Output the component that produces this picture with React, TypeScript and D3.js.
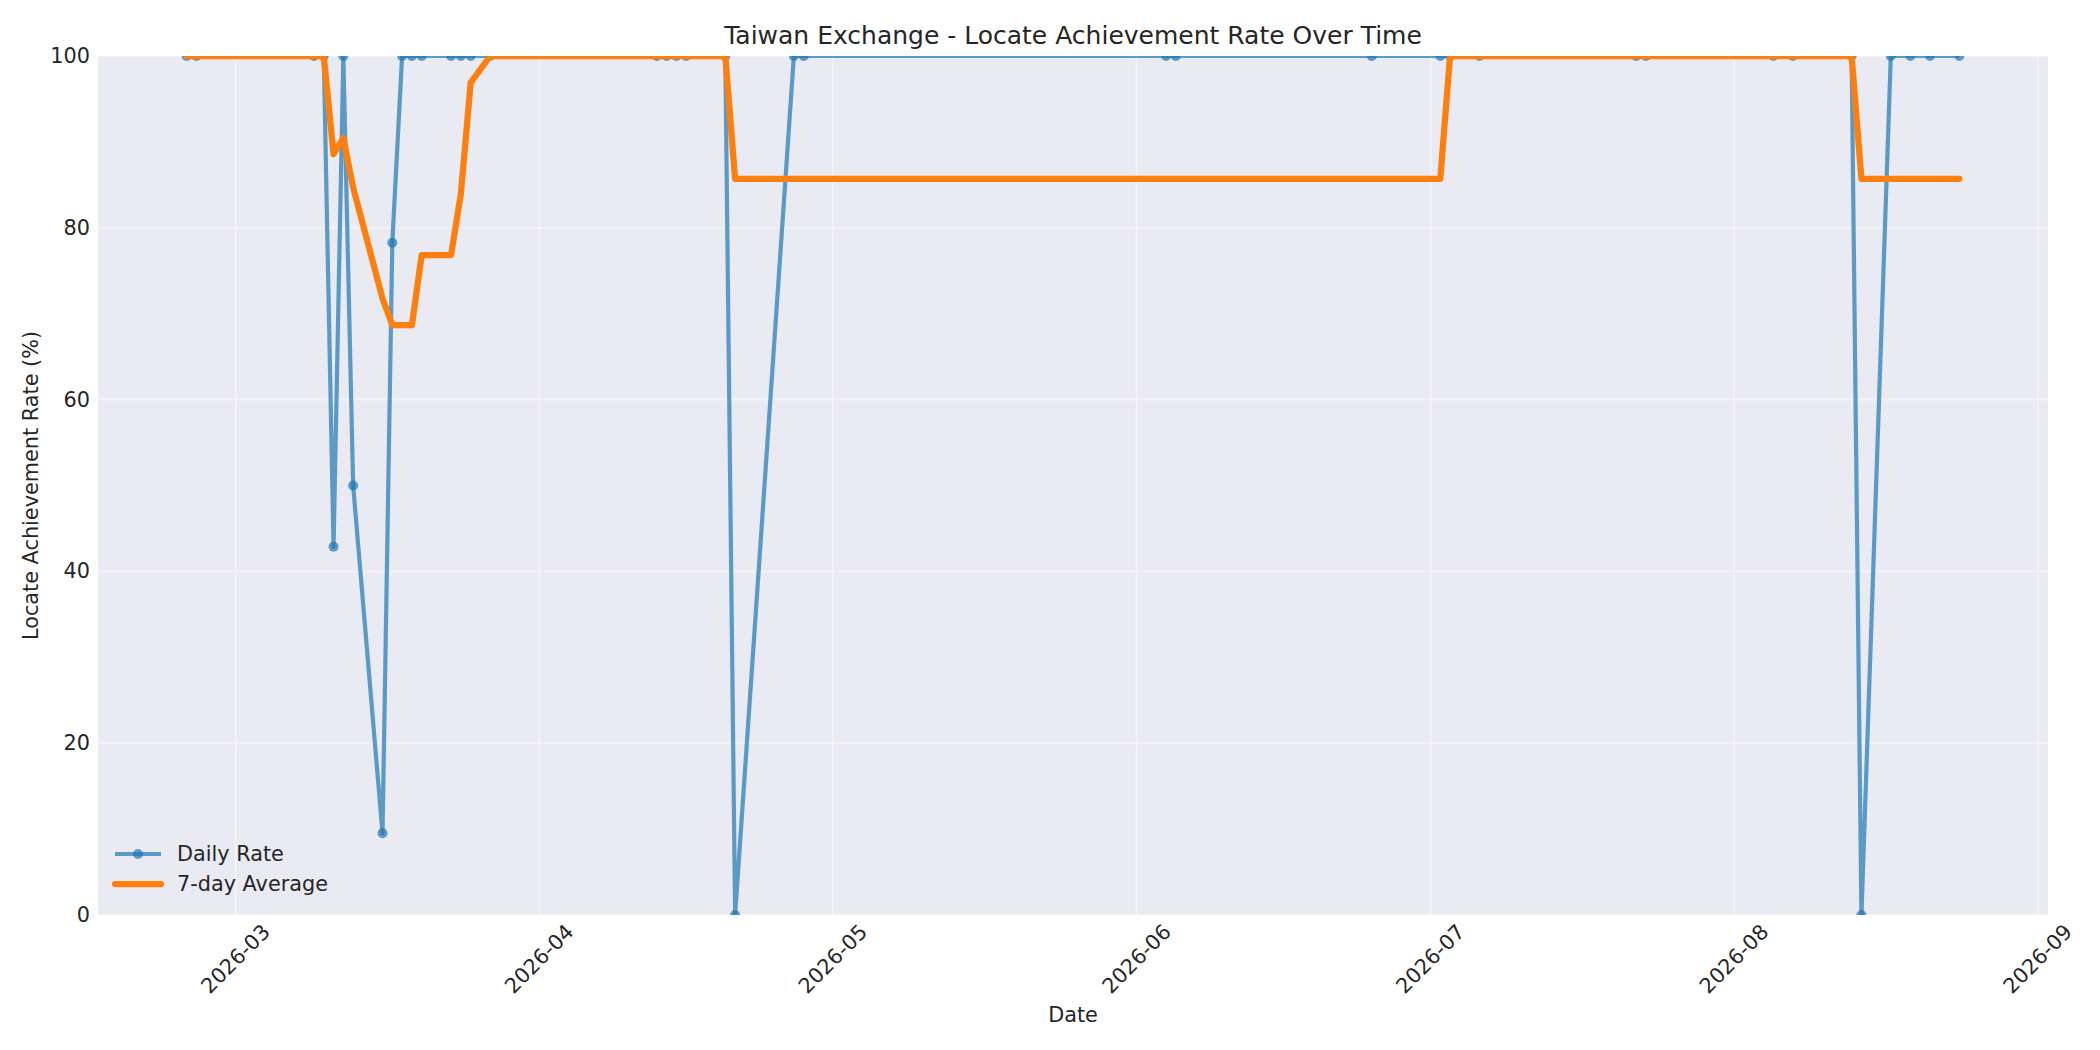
import * as React from "react";
import * as d3 from "d3";

// trading days that have a locate record
const dates = [
  "2026-02-24", "2026-02-25", "2026-03-09", "2026-03-10", "2026-03-11",
  "2026-03-12", "2026-03-13", "2026-03-16", "2026-03-17", "2026-03-18",
  "2026-03-19", "2026-03-20", "2026-03-23", "2026-03-24", "2026-03-25",
  "2026-03-27", "2026-04-13", "2026-04-14", "2026-04-15", "2026-04-16",
  "2026-04-20", "2026-04-21", "2026-04-27", "2026-04-28", "2026-06-04",
  "2026-06-05", "2026-06-25", "2026-07-02", "2026-07-03", "2026-07-06",
  "2026-07-22", "2026-07-23", "2026-08-05", "2026-08-07", "2026-08-13",
  "2026-08-14", "2026-08-17", "2026-08-19", "2026-08-21", "2026-08-24",
];

const dailyRate = [
  100, 100, 100, 100, 42.86,
  100, 50, 9.52, 78.26, 100,
  100, 100, 100, 100, 100,
  100, 100, 100, 100, 100,
  100, 0, 100, 100, 100,
  100, 100, 100, 100, 100,
  100, 100, 100, 100, 100,
  0, 100, 100, 100, 100,
];

const avgRate = [
  100, 100, 100, 100, 88.57,
  90.48, 84.69, 71.77, 68.66, 68.66,
  68.66, 76.83, 76.83, 83.97, 96.89,
  100, 100, 100, 100, 100,
  100, 85.71, 85.71, 85.71, 85.71,
  85.71, 85.71, 85.71, 100, 100,
  100, 100, 100, 100, 100,
  85.71, 85.71, 85.71, 85.71, 85.71,
];

const yTicks = [0, 20, 40, 60, 80, 100];

const W = 2100;
const H = 1050;
const margin = { left: 98, right: 2048, top: 56, bottom: 915 };
const FONT = "DejaVu Sans, sans-serif";
const INK = "#262626";
const BLUE = "#1f77b4";
const ORANGE = "#ff7f0e";

export default function App() {
  const parse = d3.utcParse("%Y-%m-%d");
  const xs = dates.map((d) => parse(d) as Date);
  const [x0, x1] = d3.extent(xs) as [Date, Date];
  const pad = (+x1 - +x0) * 0.05;
  const x = d3
    .scaleUtc()
    .domain([new Date(+x0 - pad), new Date(+x1 + pad)])
    .range([margin.left, margin.right]);
  const y = d3.scaleLinear().domain([0, 100]).range([margin.bottom, margin.top]);

  const xTicks = d3.utcMonth.range(d3.utcMonth.ceil(x.domain()[0]), x.domain()[1]);
  const fmt = d3.utcFormat("%Y-%m");

  const line = d3
    .line<number>()
    .x((_, i) => x(xs[i]))
    .y((d) => y(d));

  const cx = (margin.left + margin.right) / 2;
  const cy = (margin.top + margin.bottom) / 2;

  return (
    <svg
      width={W}
      height={H}
      style={{ position: "absolute", left: 0, top: 0, background: "#fff" }}
      fontFamily={FONT}
    >
      <defs>
        <clipPath id="plot">
          <rect
            x={margin.left}
            y={margin.top}
            width={margin.right - margin.left}
            height={margin.bottom - margin.top}
          />
        </clipPath>
      </defs>

      <rect
        x={margin.left}
        y={margin.top}
        width={margin.right - margin.left}
        height={margin.bottom - margin.top}
        fill="#eaeaf2"
      />

      {/* grid */}
      <g stroke="#ffffff" strokeOpacity={0.4} strokeWidth={2}>
        {xTicks.map((t) => (
          <line key={+t} x1={x(t)} x2={x(t)} y1={margin.top} y2={margin.bottom} />
        ))}
        {yTicks.map((t) => (
          <line key={t} x1={margin.left} x2={margin.right} y1={y(t)} y2={y(t)} />
        ))}
      </g>

      <g clipPath="url(#plot)">
        <path
          d={line(dailyRate) || ""}
          fill="none"
          stroke={BLUE}
          strokeOpacity={0.7}
          strokeWidth={4.2}
          strokeLinejoin="round"
        />
        {dailyRate.map((v, i) => (
          <circle
            key={i}
            cx={x(xs[i])}
            cy={y(v)}
            r={5}
            fill={BLUE}
            fillOpacity={0.7}
          />
        ))}
        <path
          d={line(avgRate) || ""}
          fill="none"
          stroke={ORANGE}
          strokeWidth={6.25}
          strokeLinejoin="round"
          strokeLinecap="round"
        />
      </g>

      {/* y axis */}
      <g fontSize={20.8} fill={INK} textAnchor="end">
        {yTicks.map((t) => (
          <text key={t} x={90} y={y(t)} dominantBaseline="central">
            {t}
          </text>
        ))}
      </g>

      {/* x axis */}
      <g fontSize={20.8} fill={INK} textAnchor="middle">
        {xTicks.map((t) => (
          <text
            key={+t}
            x={x(t)}
            y={959}
            dominantBaseline="central"
            transform={`rotate(-45, ${x(t)}, 959)`}
          >
            {fmt(t)}
          </text>
        ))}
      </g>

      <text x={cx} y={1022} fontSize={20.8} fill={INK} textAnchor="middle">
        Date
      </text>
      <text
        x={31}
        y={cy}
        fontSize={20.8}
        fill={INK}
        textAnchor="middle"
        dominantBaseline="central"
        transform={`rotate(-90, 31, ${cy})`}
      >
        Locate Achievement Rate (%)
      </text>
      <text x={cx} y={43.5} fontSize={25} fill={INK} textAnchor="middle">
        Taiwan Exchange - Locate Achievement Rate Over Time
      </text>

      {/* legend */}
      <g fontSize={20.8} fill={INK}>
        <line x1={115} x2={161} y1={854} y2={854} stroke={BLUE} strokeOpacity={0.7} strokeWidth={4.2} />
        <circle cx={138} cy={854} r={5} fill={BLUE} fillOpacity={0.7} />
        <text x={177} y={854} dominantBaseline="central">
          Daily Rate
        </text>
        <line
          x1={115}
          x2={161}
          y1={884}
          y2={884}
          stroke={ORANGE}
          strokeWidth={6.25}
          strokeLinecap="round"
        />
        <text x={177} y={884} dominantBaseline="central">
          7-day Average
        </text>
      </g>
    </svg>
  );
}
